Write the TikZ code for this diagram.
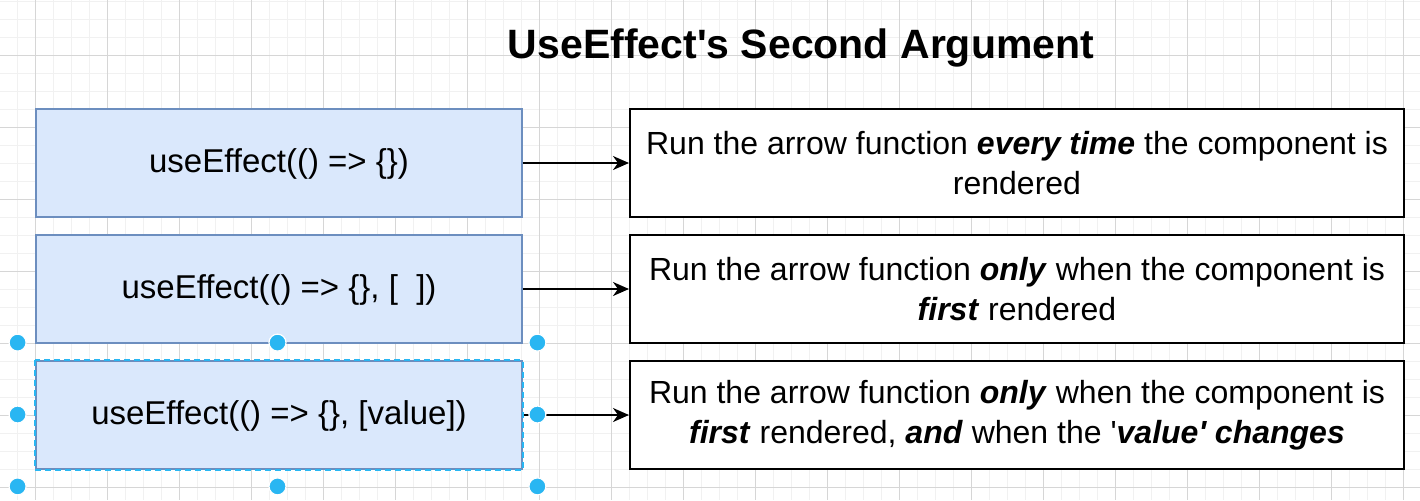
\documentclass[tikz,border=0pt]{standalone}
\usepackage{fontspec}
\setmainfont{Liberation Sans}
\usetikzlibrary{arrows.meta,positioning,calc}
\definecolor{boxfill}{HTML}{DAE8FC}
\definecolor{boxline}{HTML}{6C8EBF}
\definecolor{selblue}{HTML}{29B6F2}
\definecolor{gridmajor}{HTML}{D6D6D6}
\definecolor{gridminor}{HTML}{F1F1F1}

\begin{document}
\begin{tikzpicture}[x=0.5pt, y=-0.5pt,
  code/.style={draw=boxline, line width=0.9pt, fill=boxfill, minimum width=243pt, minimum height=54pt, inner sep=0pt, text depth=0.5ex, font=\fontsize{16.5}{20}\selectfont},
  desc/.style={draw=black, line width=1pt, fill=white, minimum width=387pt, minimum height=54pt, inner sep=0pt, align=center, font=\fontsize{16}{20}\selectfont},
  link/.style={-{Stealth[length=8pt,width=7pt,inset=2.5pt]}, line width=1pt},
  selline/.style={draw=selblue, line width=0.9pt, dash pattern=on 3pt off 2pt},
  handle/.style={circle, fill=selblue, draw=white, line width=0.6pt, minimum size=8.5pt, inner sep=0pt},
  ttl/.style={font=\fontsize{20.5}{24}\selectfont\bfseries}]
\useasboundingbox (0,0) rectangle (1420,500);
\fill[white] (0,0) rectangle (1420,500);
\foreach \gx in {-1,17,...,1421} \draw[gridminor, line width=0.5pt] (\gx,0) -- (\gx,500);
\foreach \gy in {1,19,...,499} \draw[gridminor, line width=0.5pt] (0,\gy) -- (1420,\gy);
\foreach \gx in {35,107,...,1403} \draw[gridmajor, line width=0.5pt] (\gx,0) -- (\gx,500);
\foreach \gy in {55,127,...,487} \draw[gridmajor, line width=0.5pt] (0,\gy) -- (1420,\gy);
\node[ttl, anchor=base] (title) at (801,58) {UseEffect\textquotesingle s Second Argument};
\node[code] (code1) at (279,163) {useEffect(() => \{\})};
\node[code] (code2) at (279,289) {useEffect(() => \{\}, [\ \ ])};
\node[code] (code3) at (279,415) {useEffect(() => \{\}, [value])};
\node[desc] (desc1) at (1017,163) {Run the arrow function \textbf{\textit{every time}} the component is\\rendered};
\node[desc] (desc2) at (1017,289) {Run the arrow function \textbf{\textit{only}} when the component is\\\textbf{\textit{first}} rendered};
\node[desc] (desc3) at (1017,415) {Run the arrow function \textbf{\textit{only}} when the component is\\\textbf{\textit{first}} rendered, \textbf{\textit{and}} when the \textquotesingle\textbf{\textit{value\textquotesingle{} changes}}};
\foreach \i in {1,2,3} \draw[link] (code\i) -- (desc\i);
\draw[selline] (code3.north west) rectangle (code3.south east);
\node[minimum width=259.5pt, minimum height=71.5pt, inner sep=0pt] (sel) at (277.5,414.5) {};
\foreach \a in {north west,north,north east,west,east,south west,south,south east} \node[handle] at (sel.\a) {};
\end{tikzpicture}
\end{document}
